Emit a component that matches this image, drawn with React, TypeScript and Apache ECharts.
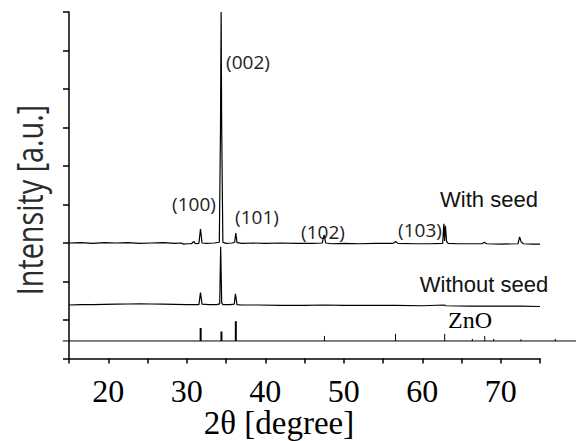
import React, { useEffect, useRef } from "react";
import * as echarts from "echarts";

// x: 2θ in degrees, y: intensity in arbitrary units (stacked offsets)
const withSeed: [number, number][] = [
  [15.0, 3.0], [16.5, 3.01], [18.0, 2.99], [19.5, 3.01], [21.0, 3.0], [22.5, 3.01],
  [24.0, 2.99], [25.5, 3.0], [27.0, 3.01], [28.5, 2.99], [29.3, 3.0], [29.6, 2.97],
  [30.0, 2.98], [30.6, 2.98], [30.9, 3.04], [31.1, 2.98], [31.55, 2.99], [31.75, 3.36],
  [31.95, 3.0], [32.5, 2.99], [33.5, 3.0], [34.15, 3.02], [34.3, 6.0], [34.38, 9.0],
  [34.45, 6.0], [34.6, 3.02], [35.0, 2.99], [35.8, 3.0], [36.1, 3.02], [36.25, 3.26],
  [36.4, 3.01], [37.0, 2.99], [38.5, 3.0], [40.0, 2.99], [42.0, 3.0], [44.0, 2.99],
  [46.0, 2.99], [47.25, 3.0], [47.5, 3.21], [47.7, 3.0], [48.5, 2.98], [50.0, 2.99],
  [52.0, 2.98], [54.0, 2.99], [56.3, 2.99], [56.6, 3.04], [56.9, 2.99], [59.0, 2.98],
  [61.0, 2.98], [62.6, 2.99], [62.75, 3.5], [62.85, 3.05], [62.95, 3.45], [63.1, 3.04],
  [63.3, 2.99], [64.5, 2.98], [66.0, 2.98], [67.6, 2.98], [67.9, 3.02], [68.2, 2.98],
  [70.0, 2.97], [72.2, 2.98], [72.4, 3.16], [72.6, 3.03], [72.9, 2.98], [74.0, 2.97],
  [75.0, 2.97],
];

const withoutSeed: [number, number][] = [
  [15.0, 1.39], [16.5, 1.4], [18.0, 1.4], [19.5, 1.405], [21.0, 1.41], [22.5, 1.415],
  [24.0, 1.42], [25.5, 1.415], [27.0, 1.41], [28.5, 1.405], [30.0, 1.4], [31.0, 1.4],
  [31.55, 1.4], [31.75, 1.71], [31.95, 1.41], [32.8, 1.4], [33.8, 1.4], [34.2, 1.42],
  [34.32, 2.9], [34.45, 1.45], [34.6, 1.4], [35.5, 1.4], [36.05, 1.41], [36.2, 1.68],
  [36.4, 1.4], [37.0, 1.39], [39.0, 1.39], [42.0, 1.38], [45.0, 1.38], [47.5, 1.39],
  [50.0, 1.38], [53.0, 1.38], [56.6, 1.38], [60.0, 1.37], [62.8, 1.39], [63.0, 1.37],
  [66.0, 1.36], [69.0, 1.36], [72.5, 1.36], [75.0, 1.35],
];

const znoBase = 0.455;
const znoBaseRange: [number, number] = [14.2, 79.6];
const znoMajor: [number, number][] = [
  [31.77, 0.79], [34.42, 0.7], [36.25, 0.97],
];
const znoMinor: [number, number][] = [
  [47.54, 0.585], [56.6, 0.64], [62.86, 0.64], [66.38, 0.51], [67.96, 0.585],
  [69.1, 0.51], [72.56, 0.5], [76.95, 0.51],
];

const xMin = 15;
const xMax = 75;
const xTicks = [20, 30, 40, 50, 60, 70];

const peakLabels = ["(002)", "(100)", "(101)", "(102)", "(103)"];
const seriesLabels = ["With seed", "Without seed", "ZnO"];

function sticks(list: [number, number][]) {
  const out: any[] = [];
  list.forEach(([x, h]) => {
    if (x <= xMax) out.push([x, znoBase], [x, h], [x, "-"]);
  });
  return out;
}

export default function App() {
  const ref = useRef<HTMLDivElement>(null);
  useEffect(() => {
    if (!ref.current) return;
    const chart = echarts.init(ref.current, undefined, { renderer: "svg" });
    const lineBase = {
      type: "line" as const,
      showSymbol: false,
      symbol: "none",
      silent: true,
      connectNulls: false,
    };
    const sans = "Open Sans";
    const txt = (id: string, x: number, y: number, text: string, font: string, fill: string, extra: any = {}) => ({
      id, type: "text", x, y, ...extra,
      style: { text, font, fill, align: "center", verticalAlign: "middle" },
    });
    const texts: any[] = [
      txt("yname", 29, 200, "Intensity [a.u.]", `36px "${sans}"`, "#2b2b2b", { rotation: Math.PI / 2, scaleX: 0.8, scaleY: 1 }),
      txt("xname", 279, 423, "2θ [degree]", '33px "Liberation Serif"', "#000"),
      txt("p0", 248, 62, peakLabels[0], `19px "${sans}"`, "#222"),
      txt("p1", 194, 204, peakLabels[1], `19px "${sans}"`, "#222"),
      txt("p2", 257, 217, peakLabels[2], `19px "${sans}"`, "#222"),
      txt("p3", 323, 232, peakLabels[3], `19px "${sans}"`, "#222"),
      txt("p4", 420, 230, peakLabels[4], `19px "${sans}"`, "#222"),
      txt("s0", 489, 199, seriesLabels[0], '22px "Liberation Sans"', "#111"),
      txt("s1", 484, 284, seriesLabels[1], '22px "Liberation Sans"', "#111"),
      txt("s2", 470, 320, seriesLabels[2], '24px "Liberation Serif"', "#000"),
    ];
    chart.setOption({
      animation: false,
      backgroundColor: "#ffffff",
      grid: { left: 69, right: 36, top: 12, bottom: 82.5 },
      xAxis: {
        type: "value",
        min: xMin,
        max: xMax,
        interval: 5,
        axisLine: { lineStyle: { color: "#000", width: 1.5 } },
        axisTick: { inside: false, length: 5, lineStyle: { color: "#000", width: 1.5 } },
        splitLine: { show: false },
        axisLabel: {
          margin: 16,
          fontFamily: "Liberation Serif",
          fontSize: 32,
          color: "#000",
          formatter: (v: number) => (xTicks.includes(v) ? String(v) : ""),
        },
      },
      yAxis: {
        type: "value",
        min: 0,
        max: 9,
        interval: 1,
        axisLine: { show: true, lineStyle: { color: "#000", width: 1.5 } },
        axisTick: { show: true, inside: false, length: 6, lineStyle: { color: "#000", width: 1.5 } },
        axisLabel: { show: false },
        splitLine: { show: false },
      },
      series: [
        { ...lineBase, data: withSeed, lineStyle: { color: "#000", width: 1.2 } },
        { ...lineBase, data: withoutSeed, lineStyle: { color: "#000", width: 1.2 } },
        { ...lineBase, data: sticks(znoMajor), lineStyle: { color: "#000", width: 2 } },
        { ...lineBase, data: sticks(znoMinor), lineStyle: { color: "#000", width: 1 } },
      ],
      graphic: texts,
    });
    // The ZnO reference baseline (and a stick) runs past the plot's edges: draw via the axes' scale
    const toPx = (x: number, y: number) => chart.convertToPixel({ gridIndex: 0 }, [x, y]) as number[];
    const b0 = toPx(znoBaseRange[0], znoBase);
    const b1 = toPx(znoBaseRange[1], znoBase);
    const lines: any[] = [
      { id: "znobase", type: "line", shape: { x1: b0[0], y1: b0[1], x2: b1[0], y2: b1[1] }, style: { stroke: "#000", lineWidth: 1 } },
    ];
    znoMinor.filter(([x]) => x > xMax).forEach(([x, h], i) => {
      const a = toPx(x, znoBase);
      const b = toPx(x, h);
      lines.push({ id: "outstick" + i, type: "line", shape: { x1: a[0], y1: a[1], x2: b[0], y2: b[1] }, style: { stroke: "#000", lineWidth: 1 } });
    });
    chart.setOption({ graphic: [...texts, ...lines] });
    return () => chart.dispose();
  }, []);
  return (
    <div
      ref={ref}
      style={{ position: "fixed", left: 0, top: 0, width: 576, height: 441, background: "#fff" }}
    />
  );
}
